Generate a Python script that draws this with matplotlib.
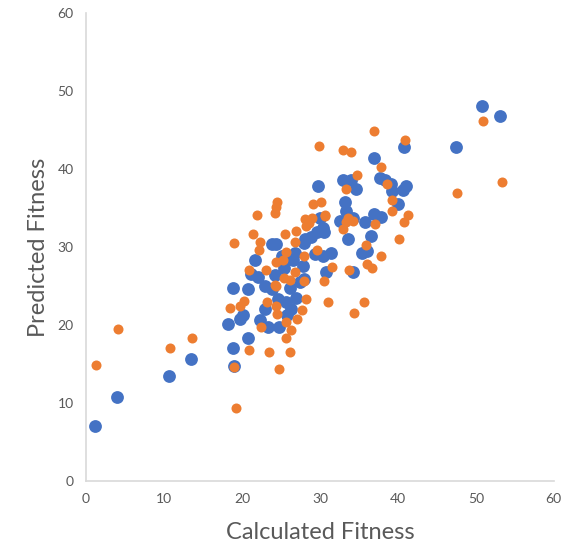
import matplotlib
matplotlib.use("Agg")
import matplotlib.pyplot as plt

# blue series (calculated, predicted)
blue_x = [1.2, 4.0, 10.6, 13.4, 18.2, 18.8, 18.8, 19.0, 19.7, 20.1, 20.8, 20.8, 21.2, 21.7,
          22.1, 22.3, 23.0, 23.0, 23.4, 23.9, 24.4, 24.2, 23.9, 24.6, 24.7, 25.1, 25.4, 25.6,
          25.8, 26.1, 26.3, 26.8, 26.6, 26.9, 27.8, 28.0, 28.1, 27.5, 28.0, 28.9, 29.4, 29.7,
          29.6, 30.4, 30.5, 30.4, 30.8, 31.4, 30.0, 32.6, 32.9, 33.2, 33.3, 33.6, 34.0, 34.6,
          34.2, 34.2, 35.4, 36.0, 35.8, 36.5, 36.9, 37.0, 37.8, 37.7, 38.4, 39.1, 39.2, 40.0,
          40.6, 41.1, 40.8, 47.4, 50.8, 53.1]
blue_y = [7.1, 10.8, 13.5, 15.7, 20.1, 24.7, 17.1, 14.8, 20.8, 21.3, 24.6, 18.4, 26.6, 28.4,
          26.2, 20.7, 25.0, 22.0, 19.8, 30.4, 30.4, 26.4, 24.6, 23.3, 19.8, 28.8, 27.3, 23.0,
          21.3, 24.7, 22.1, 29.3, 28.4, 23.5, 27.6, 30.5, 31.1, 25.5, 25.9, 31.3, 29.1, 37.8,
          32.0, 32.4, 32.0, 28.8, 26.8, 29.2, 33.8, 33.4, 38.6, 35.8, 34.6, 31.1, 38.6, 37.5,
          26.8, 33.8, 29.2, 29.5, 33.2, 31.4, 41.4, 34.3, 33.9, 38.9, 38.6, 38.1, 37.2, 35.5,
          37.3, 37.8, 42.8, 42.8, 48.1, 46.8]

# orange series
orange_x = [1.3, 4.1, 10.8, 13.6, 18.4, 19.0, 19.0, 19.2, 19.8, 20.3, 20.9, 20.9, 21.4, 21.9,
            22.2, 22.3, 22.5, 23.1, 23.2, 23.5, 24.2, 24.3, 24.5, 24.4, 24.2, 24.4, 24.4, 24.5,
            24.8, 25.3, 25.5, 25.6, 25.4, 25.6, 25.6, 26.1, 26.3, 26.2, 26.8, 26.9, 26.8, 27.1,
            27.7, 28.0, 28.2, 28.0, 28.1, 28.2, 28.6, 29.0, 29.1, 29.6, 29.9, 30.2, 30.5, 30.6,
            30.7, 31.0, 31.5, 32.9, 32.9, 34.0, 33.3, 33.6, 33.4, 34.3, 33.7, 34.4, 34.8, 35.6,
            35.9, 36.1, 36.7, 37.0, 37.1, 37.8, 37.9, 38.6, 39.2, 39.3, 40.1, 40.8, 40.9, 41.3,
            47.6, 50.9, 53.3]
orange_y = [14.9, 19.5, 17.0, 18.4, 22.2, 30.5, 14.6, 9.4, 22.5, 23.1, 27.1, 16.8, 31.7, 34.1,
            29.6, 30.7, 19.8, 27.1, 22.9, 16.5, 34.4, 35.1, 35.8, 28.1, 25.1, 25.0, 22.4, 21.4,
            14.4, 28.4, 31.7, 29.4, 26.1, 20.4, 18.4, 16.5, 19.4, 25.8, 30.7, 32.1, 26.8, 20.8,
            21.9, 28.8, 23.3, 25.6, 33.6, 32.7, 33.1, 33.8, 35.5, 29.6, 43.0, 35.8, 25.6, 34.0,
            34.1, 23.0, 27.4, 32.3, 42.4, 42.2, 37.5, 33.8, 33.2, 33.3, 27.1, 21.5, 39.2, 23.0,
            30.3, 27.9, 27.3, 44.9, 33.0, 28.8, 40.3, 38.1, 36.1, 34.6, 31.0, 33.2, 43.7, 34.1,
            37.0, 46.2, 38.3]

ticks = [0, 10, 20, 30, 40, 50, 60]

plt.rcParams["font.family"] = ["Lato", "DejaVu Sans"]
fig = plt.figure(figsize=(5.78, 5.47), dpi=100)
ax = fig.add_axes([0.149, 0.1207, 0.809, 0.855])

ax.scatter(blue_x, blue_y, s=85, color="#4472C4", linewidths=0, zorder=2)
ax.scatter(orange_x, orange_y, s=52, color="#ED7D31", linewidths=0, zorder=3)

ax.set_xlim(0, 60)
ax.set_ylim(0, 60)
ax.set_xticks(ticks)
ax.set_yticks(ticks)
ax.tick_params(length=0, labelsize=10, labelcolor="#595959", pad=9)
for side in ["top", "right"]:
    ax.spines[side].set_visible(False)
for side in ["left", "bottom"]:
    ax.spines[side].set_color("#D9D9D9")
    ax.spines[side].set_linewidth(1.2)

ax.set_xlabel("Calculated Fitness", fontsize=17, color="#595959", labelpad=12)
ax.set_ylabel("Predicted Fitness", fontsize=17, color="#595959")
ax.yaxis.set_label_coords(-0.08, 0.5)

fig.savefig("out.png", dpi=100)
